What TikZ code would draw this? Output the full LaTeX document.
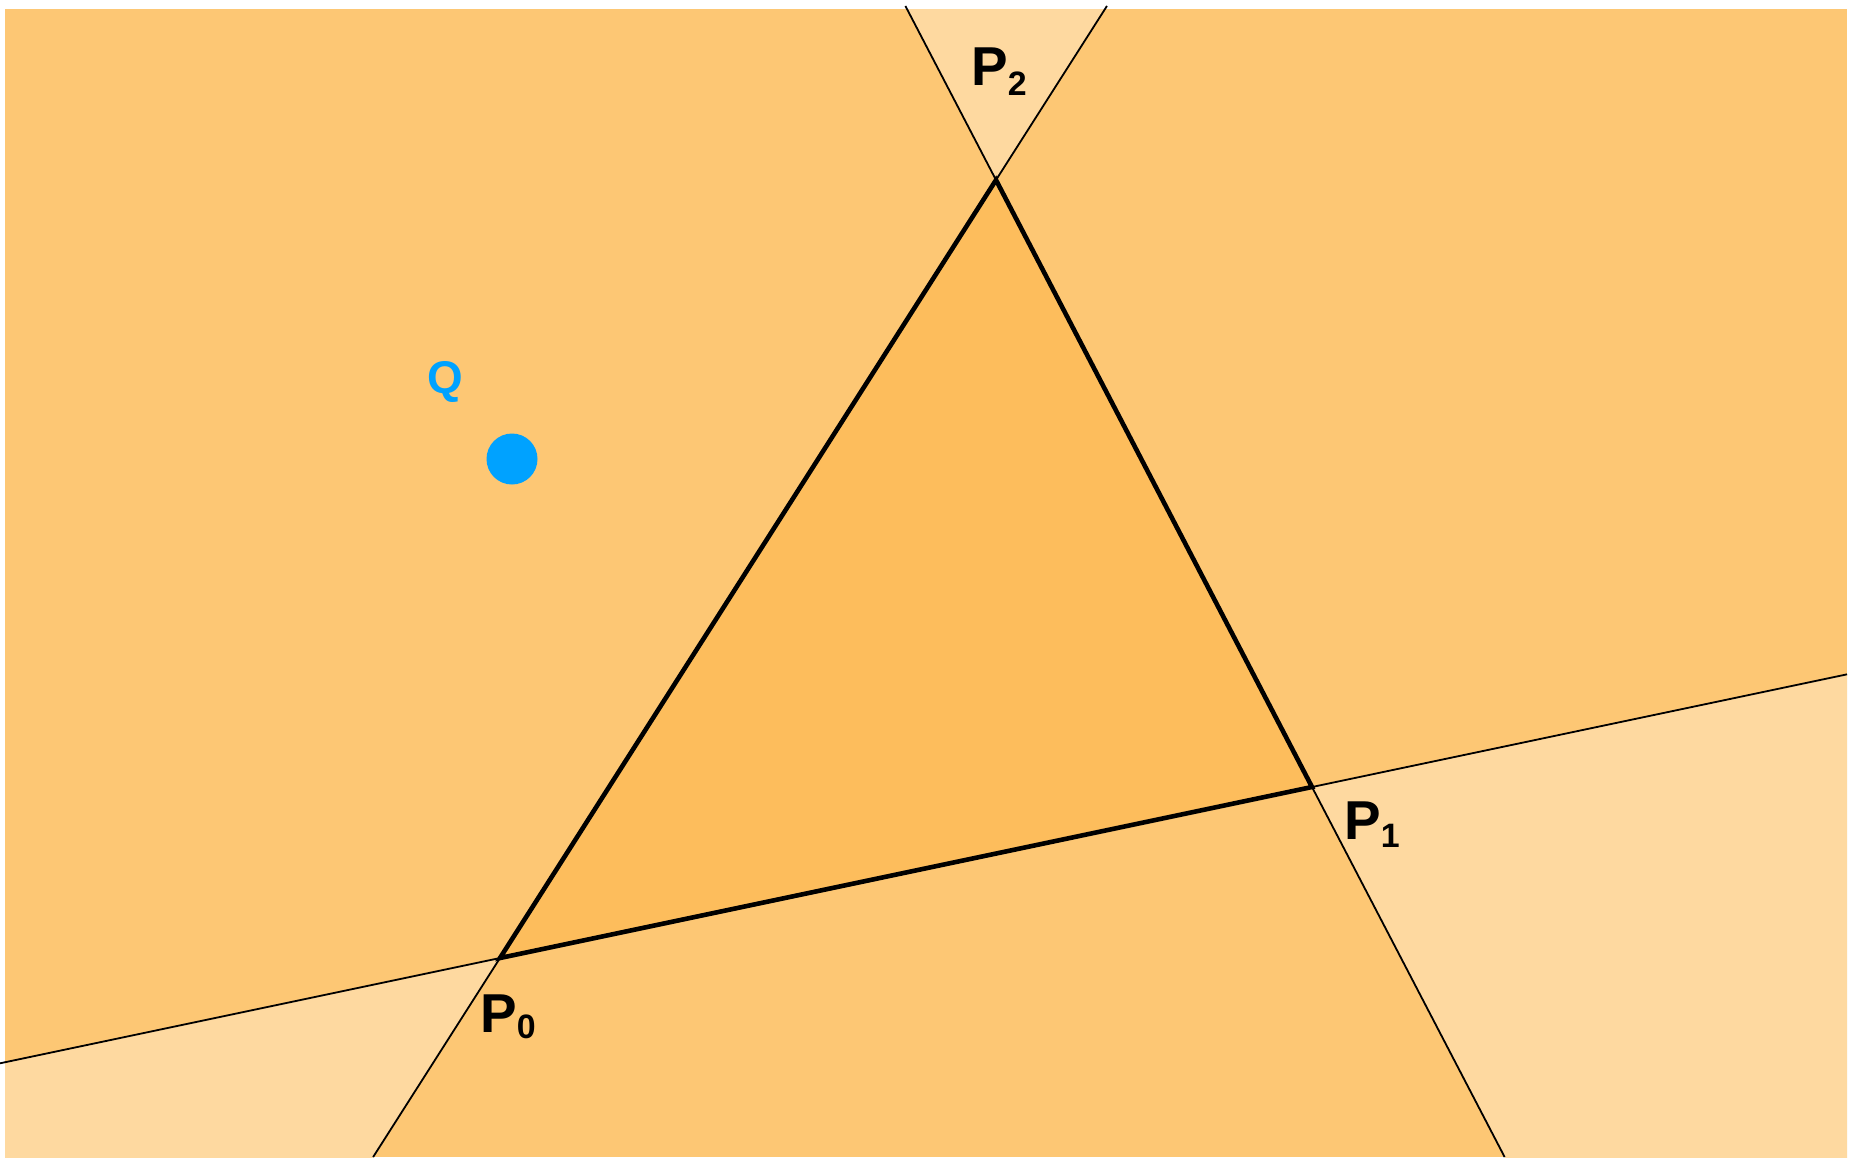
\documentclass[tikz,border=0pt]{standalone}
\usepackage{fontspec}
\setmainfont{Liberation Sans}
\usetikzlibrary{calc}
\definecolor{midor}{RGB}{253,199,116}
\definecolor{lightor}{RGB}{254,217,160}
\definecolor{darkor}{RGB}{253,189,92}
\definecolor{qblue}{RGB}{0,162,255}
\begin{document}
\begin{tikzpicture}[x=1bp,y=-1bp,
  thinline/.style={line width=1.8bp,black},
  thickedge/.style={line width=4.6bp,black,line join=miter},
  lbl/.style={inner sep=0pt,anchor=base west,font=\bfseries\fontsize{55}{55}\selectfont}]
\useasboundingbox (0,0) rectangle (1855,1162);
\fill[white] (0,0) rectangle (1855,1162);
\coordinate (P0) at (500,958);
\coordinate (P1) at (1312,787);
\coordinate (P2) at (996,180);
\coordinate (R1) at (5,9);
\coordinate (R2) at (1847,1157);
% extended line ends
\coordinate (L01a) at ($(P0)!-0.6158!(P1)$);
\coordinate (L01b) at ($(P0)!1.6589!(P1)$);
\coordinate (L02a) at ($(P0)!1.2237!(P2)$);
\coordinate (L02b) at ($(P0)!-0.2558!(P2)$);
\coordinate (L12a) at ($(P2)!-0.2867!(P1)$);
\coordinate (L12b) at ($(P2)!1.6096!(P1)$);
% regions
\fill[midor] (R1) rectangle (R2);
\begin{scope}
  \clip (R1) rectangle (R2);
  \fill[lightor] (P2) -- ($(P2)!-0.4!(P1)$) -- ($(P0)!1.4!(P2)$) -- cycle;
  \fill[lightor] (P0) -- ($(P0)!-0.8!(P1)$) -- (-150,1400) -- ($(P0)!-0.5!(P2)$) -- cycle;
  \fill[lightor] (P1) -- ($(P0)!1.9!(P1)$) -- (2043,1400) -- ($(P2)!1.9!(P1)$) -- cycle;
\end{scope}
\fill[darkor] (P0) -- (P1) -- (P2) -- cycle;
% lines
\draw[thinline] (L01a) -- (L01b);
\draw[thinline] (L02a) -- (L02b);
\draw[thinline] (L12a) -- (L12b);
\draw[thickedge] (P0) -- (P1) -- (P2) -- cycle;
% point Q
\node[circle,fill=qblue,minimum size=51bp,inner sep=0pt] (qdot) at (512,459) {};
\node[lbl,text=qblue,font=\bfseries\fontsize{46}{46}\selectfont] (qlbl) at (427,393) {Q};
% labels
\node[lbl] (p2lbl) at (971,85) {P\raisebox{-10bp}{\fontsize{34}{34}\selectfont 2}};
\node[lbl] (p1lbl) at (1344,839) {P\raisebox{-8bp}{\fontsize{34}{34}\selectfont 1}};
\node[lbl] (p0lbl) at (480,1032) {P\raisebox{-6bp}{\fontsize{34}{34}\selectfont 0}};
\end{tikzpicture}
\end{document}
